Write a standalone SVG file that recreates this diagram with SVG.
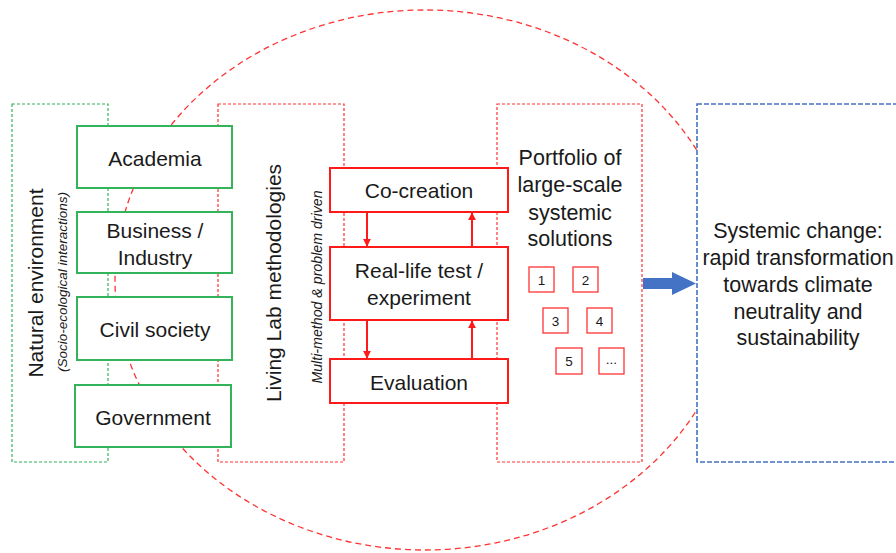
<svg xmlns="http://www.w3.org/2000/svg" width="896" height="553" viewBox="0 0 896 553">
<defs>
<style>
text{font-family:"Liberation Sans",Arial,sans-serif;fill:#1a1a1a;text-anchor:middle;dominant-baseline:central}
.t20{font-size:21.5px}
.t19{font-size:21px}
.sm{font-size:13.5px}
.it{font-style:italic}
.gbox{fill:#fff;stroke:#33b35a;stroke-width:2}
.rbox{fill:#fff;stroke:#ff1a1a;stroke-width:2}
.nbox{fill:#fff;stroke:#ff3333;stroke-width:1.3}
.gdash{fill:none;stroke:#33b35a;stroke-width:1.2;stroke-dasharray:3 2}
.rdash{fill:none;stroke:#ff3333;stroke-width:1.2;stroke-dasharray:3 2}
.bdash{fill:#fff;stroke:#4472c4;stroke-width:1.6;stroke-dasharray:5 2}
.ell{fill:none;stroke:#ff3333;stroke-width:1.3;stroke-dasharray:6 4}
.arr{stroke:#ff1a1a;stroke-width:2;fill:none;marker-end:url(#ah)}
</style>
<marker id="ah" viewBox="0 0 10 10" refX="9" refY="5" markerWidth="4" markerHeight="4" orient="auto" markerUnits="strokeWidth">
<path d="M0,0 L10,5 L0,10 z" fill="#ff1a1a"/>
</marker>
</defs>
<rect width="896" height="553" fill="#fff"/>

<ellipse id="cycle" class="ell" cx="425" cy="280" rx="310" ry="270"/>

<g id="natural-environment">
<rect class="gdash" x="12" y="104" width="96" height="358"/>
<text transform="translate(35,283) rotate(-90)" style="font-size:21px">Natural environment</text>
<text class="it" transform="translate(62,282) rotate(-90)" style="font-size:13.5px">(Socio-ecological interactions)</text>
</g>

<g id="living-lab">
<rect class="rdash" x="218" y="104" width="126" height="358"/>
<text transform="translate(273,283) rotate(-90)" style="font-size:21px">Living Lab methodologies</text>
<text class="it" transform="translate(317,287) rotate(-90)" style="font-size:14.2px">Multi-method &amp; problem driven</text>
</g>

<g id="portfolio">
<rect class="rdash" x="497" y="104" width="145" height="358"/>
<text class="t20" x="570" y="158">Portfolio of</text>
<text class="t20" x="570" y="185">large-scale</text>
<text class="t20" x="570" y="213">systemic</text>
<text class="t20" x="570" y="239">solutions</text>
</g>

<g id="academia"><rect class="gbox" x="77" y="126" width="155" height="62"/><text class="t19" x="155" y="158">Academia</text></g>
<g id="business"><rect class="gbox" x="77" y="212" width="155" height="61"/><text class="t19" x="155" y="230">Business /</text><text class="t19" x="155" y="257">Industry</text></g>
<g id="civil-society"><rect class="gbox" x="77" y="297" width="155" height="63"/><text class="t19" x="155" y="329">Civil society</text></g>
<g id="government"><rect class="gbox" x="75" y="385" width="156" height="62"/><text class="t19" x="153" y="417">Government</text></g>

<g id="co-creation"><rect class="rbox" x="330" y="168" width="178" height="44"/><text class="t19" x="419" y="190">Co-creation</text></g>
<g id="real-life-test"><rect class="rbox" x="330" y="247" width="178" height="73"/><text class="t19" x="419" y="270">Real-life test /</text><text class="t19" x="419" y="297">experiment</text></g>
<g id="evaluation"><rect class="rbox" x="330" y="359" width="178" height="44"/><text class="t19" x="419" y="382">Evaluation</text></g>

<g id="solution-1"><rect class="nbox" x="529" y="267" width="25" height="25"/><text class="sm" x="541.5" y="280">1</text></g>
<g id="solution-2"><rect class="nbox" x="573" y="267" width="25" height="25"/><text class="sm" x="585.5" y="280">2</text></g>
<g id="solution-3"><rect class="nbox" x="543" y="308" width="25" height="25"/><text class="sm" x="555.5" y="321">3</text></g>
<g id="solution-4"><rect class="nbox" x="587" y="308" width="25" height="25"/><text class="sm" x="599.5" y="321">4</text></g>
<g id="solution-5"><rect class="nbox" x="556" y="348" width="26" height="26"/><text class="sm" x="569" y="361">5</text></g>
<g id="solution-more"><rect class="nbox" x="599" y="348" width="25" height="26"/><text class="sm" x="611.5" y="359">...</text></g>

<g id="systemic-change">
<rect class="bdash" x="697" y="104" width="210" height="358"/>
<text class="t20" x="798" y="231">Systemic change:</text>
<text class="t20" x="798" y="258">rapid transformation</text>
<text class="t20" x="798" y="285">towards climate</text>
<text class="t20" x="798" y="312">neutrality and</text>
<text class="t20" x="798" y="338">sustainability</text>
</g>

<g id="connectors">
<line class="arr" x1="367" y1="213" x2="367" y2="246"/>
<line class="arr" x1="367" y1="321" x2="367" y2="358"/>
<line class="arr" x1="472" y1="246" x2="472" y2="213"/>
<line class="arr" x1="472" y1="358" x2="472" y2="321"/>
<path d="M643,278 L672,278 L672,272 L696,283.5 L672,295 L672,289 L643,289 z" fill="#4472c4"/>
</g>
</svg>
